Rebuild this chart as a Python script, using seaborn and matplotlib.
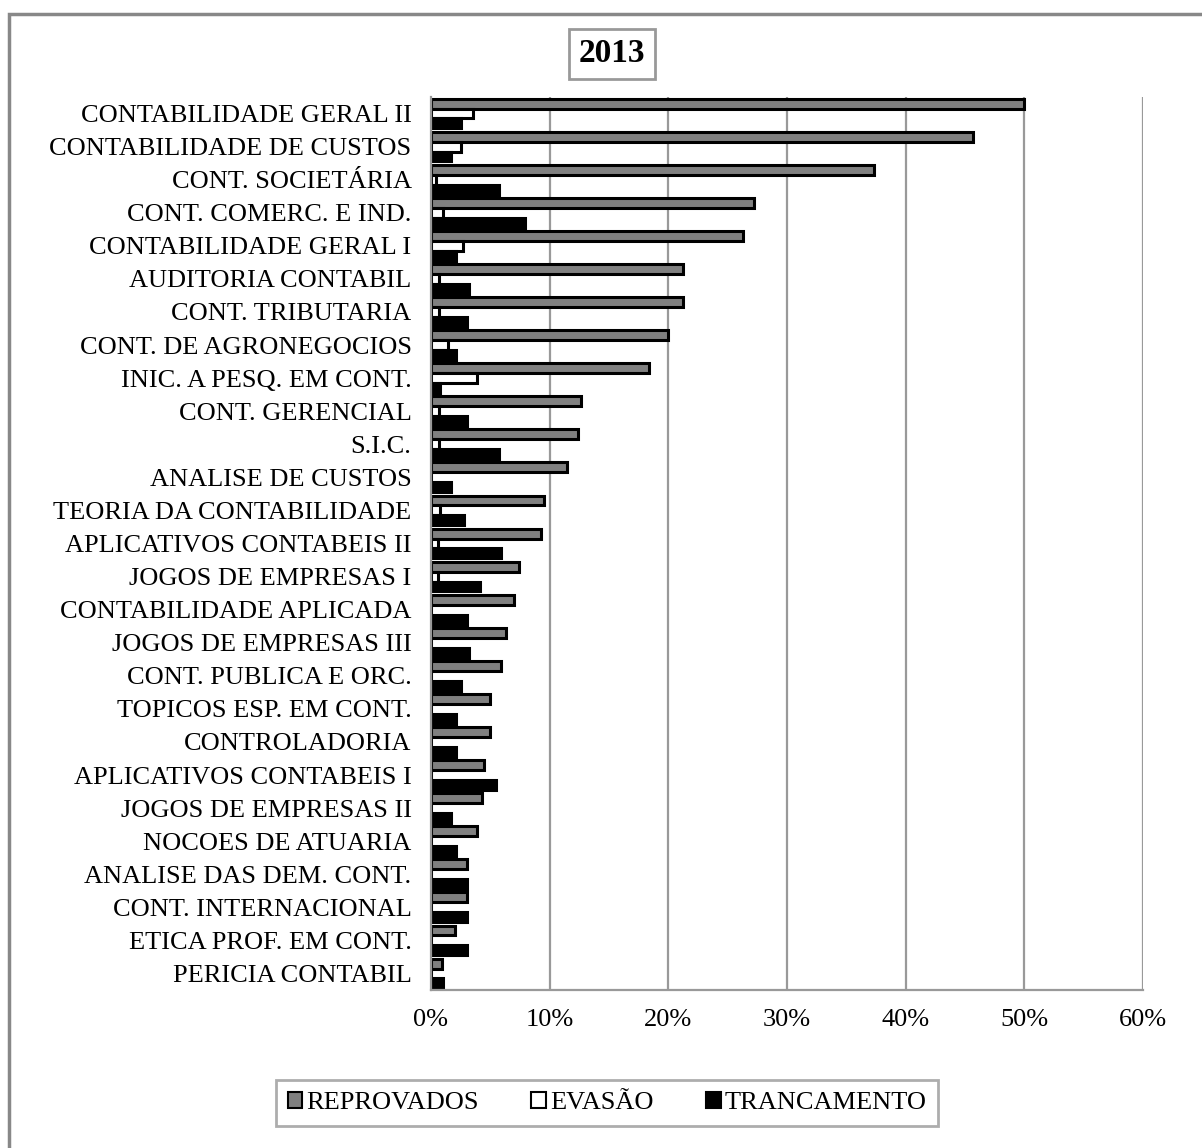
import matplotlib
matplotlib.use("Agg")
import matplotlib.pyplot as plt
import matplotlib.patches as mpatches
import seaborn as sns
import pandas as pd
import numpy as np

categorias = [
    "CONTABILIDADE GERAL II", "CONTABILIDADE DE CUSTOS", "CONT. SOCIETÁRIA",
    "CONT. COMERC. E IND.", "CONTABILIDADE GERAL I", "AUDITORIA CONTABIL",
    "CONT. TRIBUTARIA", "CONT. DE AGRONEGOCIOS", "INIC. A PESQ. EM CONT.",
    "CONT. GERENCIAL", "S.I.C.", "ANALISE DE CUSTOS", "TEORIA DA CONTABILIDADE",
    "APLICATIVOS CONTABEIS II", "JOGOS DE EMPRESAS I", "CONTABILIDADE APLICADA",
    "JOGOS DE EMPRESAS III", "CONT. PUBLICA E ORC.", "TOPICOS ESP. EM CONT.",
    "CONTROLADORIA", "APLICATIVOS CONTABEIS I", "JOGOS DE EMPRESAS II",
    "NOCOES DE ATUARIA", "ANALISE DAS DEM. CONT.", "CONT. INTERNACIONAL",
    "ETICA PROF. EM CONT.", "PERICIA CONTABIL",
]
reprovados = [50.0, 45.7, 37.3, 27.2, 26.3, 21.2, 21.2, 20.0, 18.4, 12.6, 12.4, 11.5,
              9.5, 9.3, 7.45, 7.0, 6.3, 5.9, 5.0, 5.0, 4.5, 4.3, 3.85, 3.0, 3.0, 2.0, 0.9]
evasao = [3.5, 2.5, 0.4, 1.0, 2.7, 0.7, 0.7, 1.4, 3.85, 0.7, 0.7, 0.0,
          0.8, 0.6, 0.6, 0.0, 0.0, 0.0, 0.0, 0.0, 0.0, 0.0, 0.0, 0.0, 0.0, 0.0, 0.0]
trancamento = [2.5, 1.7, 5.7, 7.95, 2.1, 3.2, 3.0, 2.1, 0.76, 3.0, 5.7, 1.7,
               2.75, 5.9, 4.1, 3.0, 3.2, 2.5, 2.1, 2.1, 5.5, 1.7, 2.1, 3.0, 3.0, 3.0, 1.0]
series = ["REPROVADOS", "EVASÃO", "TRANCAMENTO"]
cores = ["#808080", "#ffffff", "#000000"]
xticks = [0, 10, 20, 30, 40, 50, 60]
xticklabels = ["0%", "10%", "20%", "30%", "40%", "50%", "60%"]
titulo = "2013"

df = pd.DataFrame({
    "disciplina": categorias * 3,
    "valor": reprovados + evasao + trancamento,
    "serie": [series[0]] * len(categorias) + [series[1]] * len(categorias) + [series[2]] * len(categorias),
})

sns.set_style("white")
plt.rcParams["font.family"] = ["Liberation Serif", "DejaVu Serif"]
plt.rcParams["text.color"] = "black"

W, H = 1202, 1148
fig = plt.figure(figsize=(W / 100, H / 100), dpi=100)
ax = fig.add_axes([431 / W, 1 - 990 / H, (1143 - 431) / W, (990 - 97) / H])

sns.barplot(data=df, y="disciplina", x="valor", hue="serie", order=categorias,
            hue_order=series, palette=cores, orient="h", width=0.9, gap=0,
            edgecolor="black", linewidth=2.2, ax=ax, legend=False)

ax.set_xlim(0, 60)
ax.set_ylim(len(categorias) - 0.5, -0.5)
ax.set_xticks(xticks)
ax.set_xticklabels(xticklabels, fontsize=19, color="black")
ax.set_xlabel("")
ax.set_ylabel("")
ax.tick_params(axis="y", which="major", length=0, pad=14, labelsize=19, labelcolor="black")
ax.set_yticks(np.arange(len(categorias) + 1) - 0.5, minor=True)
ax.tick_params(axis="y", which="minor", length=6, width=1.5, color="#999999")
ax.tick_params(axis="x", which="major", length=6, width=1.5, color="#999999", pad=8)

ax.grid(False)
for x in xticks[1:]:
    ax.axvline(x, color="#999999", linewidth=1.6, zorder=0)
for side in ["top", "right"]:
    ax.spines[side].set_visible(False)
for side in ["left", "bottom"]:
    ax.spines[side].set_color("#999999")
    ax.spines[side].set_linewidth(1.6)

# title
fig.text(612 / W, 1 - 54 / H, titulo, ha="center", va="center", fontsize=24,
         fontweight="bold",
         bbox=dict(boxstyle="square,pad=0.28", facecolor="white", edgecolor="#999999", linewidth=2))

# legend
handles = [mpatches.Patch(facecolor=c, edgecolor="black", linewidth=1.5) for c in cores]
leg = fig.legend(handles, series, loc="center", bbox_to_anchor=(607 / W, 1 - 1103 / H),
                 ncol=3, fontsize=19, frameon=True, fancybox=False, edgecolor="#999999",
                 handlelength=0.55, handleheight=0.55, handletextpad=0.15, columnspacing=2.0,
                 borderpad=0.45, borderaxespad=0)
leg.get_frame().set_linewidth(2)

# outer border
fig.patches.append(mpatches.Rectangle((9 / W, -0.1), 1.2, 1 - 14 / H + 0.1,
                                      transform=fig.transFigure, fill=False,
                                      edgecolor="#888888", linewidth=2.5))

fig.savefig("out.png", dpi=100)
